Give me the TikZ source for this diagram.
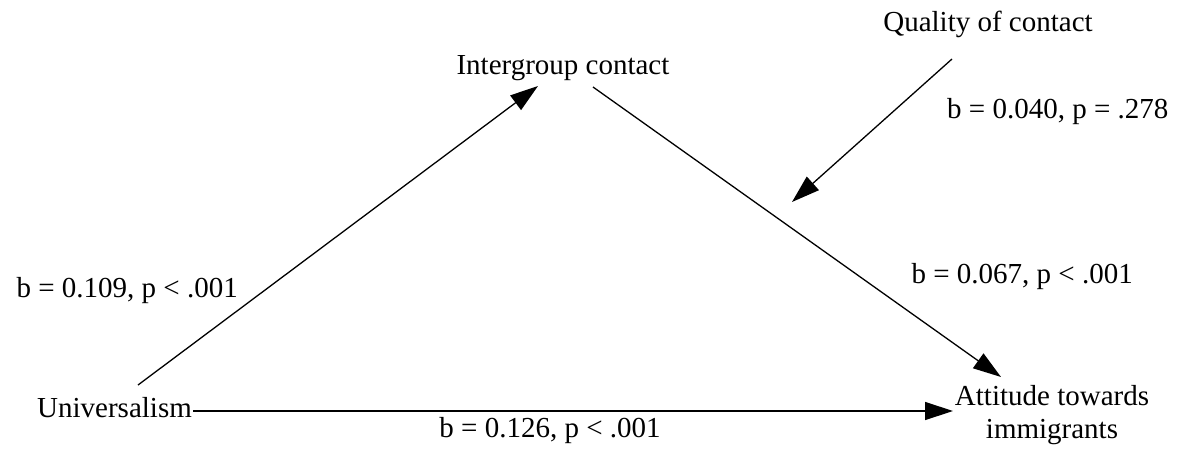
\documentclass[tikz,border=0pt]{standalone}
\usepackage{fontspec}
\setmainfont{Liberation Serif}
\usetikzlibrary{arrows.meta,calc}
\begin{document}
\begin{tikzpicture}[x=1pt,y=1pt,
  lbl/.style={inner sep=0pt,font=\fontsize{29}{33}\selectfont},
  arr/.style={line width=1.3pt,-{Triangle[length=28pt,width=18pt]}}]
\useasboundingbox (0,0) rectangle (1181,-450);
\node[lbl,anchor=base] (qual) at (988,-31) {Quality of contact};
\node[lbl,anchor=base] (inter) at (563,-74) {Intergroup contact};
\node[lbl,anchor=base west] (b040) at (947,-118) {b = 0.040, p = .278};
\node[lbl,anchor=base east] (b067) at (1133,-283) {b = 0.067, p < .001};
\node[lbl,anchor=base east] (b109) at (238,-297) {b = 0.109, p < .001};
\node[lbl,anchor=base west] (univ) at (37,-417) {Universalism};
\node[lbl,align=center,anchor=base] (att) at (1052,-438) {Attitude towards\\immigrants};
\node[lbl,anchor=base] (b126) at (550,-437) {b = 0.126, p < .001};
\coordinate (mod) at (792,-202);
\draw[arr] ($(univ.base west)+(101,32)$) -- ($(inter.base)+(-25,-12)$);
\draw[arr] ($(inter.base)+(30,-13)$) -- ($(att.base)+(-51,61)$);
\draw[arr] ($(qual.base)+(-36,-28)$) -- (mod);
\draw[arr] ($(univ.base east)+(1,6)$) -- ($(att.base)+(-99,27)$);
\end{tikzpicture}
\end{document}
